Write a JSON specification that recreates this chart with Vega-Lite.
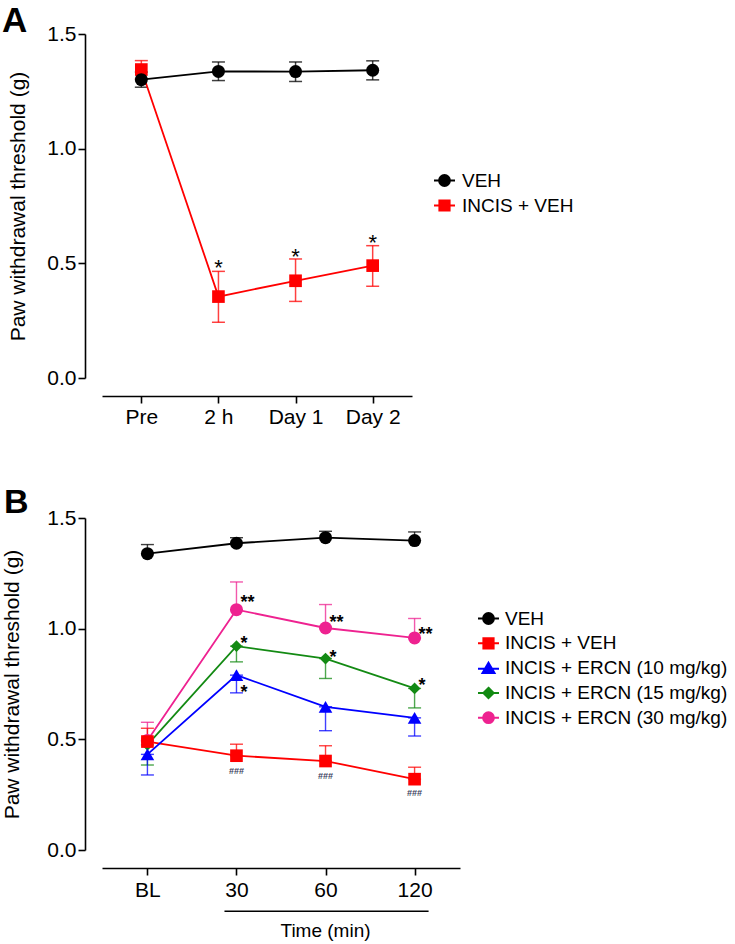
{
  "$schema": "https://vega.github.io/schema/vega-lite/v6.json",
  "padding": {"left": 1, "top": 4, "right": 0, "bottom": 0},
  "columns": 1,
  "align": "none",
  "spacing": 59,
  "resolve": {
    "scale": {"x": "independent", "y": "independent", "color": "independent", "fill": "independent", "stroke": "independent", "shape": "independent"},
    "axis": {"x": "independent", "y": "independent"},
    "legend": {"color": "independent", "fill": "independent", "stroke": "independent", "shape": "independent"}
  },
  "config": {
    "view": {"stroke": null},
    "font": "Liberation Sans",
    "axis": {"domainColor": "black", "domainWidth": 1.6, "tickColor": "black", "tickWidth": 1.6, "tickSize": 7, "labelColor": "black", "labelFontSize": 21, "grid": false, "titleColor": "black", "titleFontWeight": "normal", "titleFontSize": 21},
    "legend": {"labelLimit": 0, "symbolOpacity": 1},
    "title": {"color": "black"}
  },
  "datasets": {
    "A": [
      {"group": "INCIS + VEH", "time": "Pre", "mean": 1.345, "lo": 1.305, "hi": 1.384},
      {"group": "INCIS + VEH", "time": "2 h", "mean": 0.355, "lo": 0.243, "hi": 0.465},
      {"group": "INCIS + VEH", "time": "Day 1", "mean": 0.424, "lo": 0.334, "hi": 0.519},
      {"group": "INCIS + VEH", "time": "Day 2", "mean": 0.49, "lo": 0.4, "hi": 0.577},
      {"group": "VEH", "time": "Pre", "mean": 1.301, "lo": 1.268, "hi": 1.334},
      {"group": "VEH", "time": "2 h", "mean": 1.337, "lo": 1.297, "hi": 1.378},
      {"group": "VEH", "time": "Day 1", "mean": 1.336, "lo": 1.293, "hi": 1.378},
      {"group": "VEH", "time": "Day 2", "mean": 1.342, "lo": 1.3, "hi": 1.383}
    ],
    "A_ann": [
      {"time": "2 h", "y": 0.505, "label": "*"},
      {"time": "Day 1", "y": 0.555, "label": "*"},
      {"time": "Day 2", "y": 0.614, "label": "*"}
    ],
    "B": [
      {"group": "VEH", "time": "BL", "mean": 1.339, "lo": 1.339, "hi": 1.38},
      {"group": "VEH", "time": "30", "mean": 1.386, "lo": 1.386, "hi": 1.411},
      {"group": "VEH", "time": "60", "mean": 1.411, "lo": 1.411, "hi": 1.44},
      {"group": "VEH", "time": "120", "mean": 1.398, "lo": 1.398, "hi": 1.437},
      {"group": "INCIS + ERCN (30 mg/kg)", "time": "BL", "mean": 0.495, "lo": 0.495, "hi": 0.577},
      {"group": "INCIS + ERCN (30 mg/kg)", "time": "30", "mean": 1.086, "lo": 1.086, "hi": 1.211},
      {"group": "INCIS + ERCN (30 mg/kg)", "time": "60", "mean": 1.003, "lo": 1.003, "hi": 1.109},
      {"group": "INCIS + ERCN (30 mg/kg)", "time": "120", "mean": 0.958, "lo": 0.958, "hi": 1.046},
      {"group": "INCIS + ERCN (15 mg/kg)", "time": "BL", "mean": 0.475, "lo": 0.384, "hi": 0.475},
      {"group": "INCIS + ERCN (15 mg/kg)", "time": "30", "mean": 0.921, "lo": 0.85, "hi": 0.921},
      {"group": "INCIS + ERCN (15 mg/kg)", "time": "60", "mean": 0.865, "lo": 0.775, "hi": 0.865},
      {"group": "INCIS + ERCN (15 mg/kg)", "time": "120", "mean": 0.73, "lo": 0.642, "hi": 0.73},
      {"group": "INCIS + VEH", "time": "BL", "mean": 0.49, "lo": 0.49, "hi": 0.55},
      {"group": "INCIS + VEH", "time": "30", "mean": 0.426, "lo": 0.426, "hi": 0.478},
      {"group": "INCIS + VEH", "time": "60", "mean": 0.402, "lo": 0.402, "hi": 0.471},
      {"group": "INCIS + VEH", "time": "120", "mean": 0.32, "lo": 0.32, "hi": 0.374},
      {"group": "INCIS + ERCN (10 mg/kg)", "time": "BL", "mean": 0.432, "lo": 0.339, "hi": 0.432},
      {"group": "INCIS + ERCN (10 mg/kg)", "time": "30", "mean": 0.79, "lo": 0.71, "hi": 0.79},
      {"group": "INCIS + ERCN (10 mg/kg)", "time": "60", "mean": 0.647, "lo": 0.539, "hi": 0.647},
      {"group": "INCIS + ERCN (10 mg/kg)", "time": "120", "mean": 0.597, "lo": 0.515, "hi": 0.597}
    ],
    "B_ann": [
      {"time": "30", "y": 1.139, "label": "**", "kind": "star"},
      {"time": "60", "y": 1.046, "label": "**", "kind": "star"},
      {"time": "120", "y": 0.996, "label": "**", "kind": "star"},
      {"time": "30", "y": 0.955, "label": "*", "kind": "star"},
      {"time": "60", "y": 0.892, "label": "*", "kind": "star"},
      {"time": "120", "y": 0.764, "label": "*", "kind": "star"},
      {"time": "30", "y": 0.734, "label": "*", "kind": "star"},
      {"time": "30", "y": 0.357, "label": "###", "kind": "hash"},
      {"time": "60", "y": 0.334, "label": "###", "kind": "hash"},
      {"time": "120", "y": 0.259, "label": "###", "kind": "hash"}
    ]
  },
  "concat": [
    {
      "width": 310,
      "height": 344,
      "title": {"text": "A", "fontSize": 35, "fontWeight": "bold", "anchor": "start", "frame": "group", "dx": -100, "dy": 18, "offset": 2},
      "data": {"name": "A"},
      "encoding": {
        "x": {"field": "time", "type": "ordinal", "sort": ["Pre", "2 h", "Day 1", "Day 2"], "scale": {"type": "point", "padding": 0.51}, "axis": {"title": null, "offset": 18, "labelAngle": 0, "labelPadding": 3}},
        "y": {"field": "mean", "type": "quantitative", "scale": {"domain": [0, 1.5], "nice": false}, "axis": {"title": "Paw withdrawal threshold (g)", "values": [0, 0.5, 1, 1.5], "format": ".1f", "offset": 17, "labelPadding": 2, "titlePadding": 18}}
      },
      "layer": [
        {
          "mark": {"type": "point", "size": 4, "strokeWidth": 1, "opacity": 1},
          "encoding": {
            "fill": {"field": "group", "type": "nominal", "scale": {"domain": ["VEH", "INCIS + VEH"], "range": ["#000000", "#ff0000"]}, "legend": {"title": null, "orient": "none", "legendX": 333, "legendY": 137, "padding": 0, "symbolSize": 144, "symbolStrokeWidth": 2, "labelFontSize": 19, "labelOffset": 8, "rowPadding": 5, "labelColor": "black", "labelLimit": 0, "symbolOpacity": 1}},
            "stroke": {"field": "group", "type": "nominal", "scale": {"domain": ["VEH", "INCIS + VEH"], "range": ["#000000", "#ff0000"]}, "legend": {"title": null, "orient": "none", "legendX": 333, "legendY": 137, "padding": 0, "symbolSize": 144, "symbolStrokeWidth": 2, "labelFontSize": 19, "labelOffset": 8, "rowPadding": 5, "labelColor": "black", "labelLimit": 0, "symbolOpacity": 1}},
            "shape": {"field": "group", "type": "nominal", "scale": {"domain": ["VEH", "INCIS + VEH"], "range": ["M-1.75,0H1.75M0.9,0A0.9,0.9,0,1,1,-0.9,0A0.9,0.9,0,1,1,0.9,0Z", "M-1.75,0H1.75M-0.85,-0.85H0.85V0.85H-0.85Z"]}, "legend": {"title": null, "orient": "none", "legendX": 333, "legendY": 137, "padding": 0, "symbolSize": 144, "symbolStrokeWidth": 2, "labelFontSize": 19, "labelOffset": 8, "rowPadding": 5, "labelColor": "black", "labelLimit": 0, "symbolOpacity": 1}}
          }
        },
        {
          "mark": {"type": "errorbar", "ticks": {"size": 13, "opacity": 0.75}, "rule": {"opacity": 0.75}, "thickness": 1.5},
          "encoding": {
            "y": {"field": "lo", "type": "quantitative", "scale": {"domain": [0, 1.5], "nice": false}, "axis": {"title": "Paw withdrawal threshold (g)", "values": [0, 0.5, 1, 1.5], "format": ".1f", "offset": 17, "labelPadding": 2, "titlePadding": 18}},
            "y2": {"field": "hi"},
            "color": {"field": "group", "type": "nominal", "scale": {"domain": ["VEH", "INCIS + VEH"], "range": ["#000000", "#ff0000"]}, "legend": null}
          }
        },
        {
          "mark": {"type": "line", "strokeWidth": 1.8},
          "encoding": {
            "color": {"field": "group", "type": "nominal", "scale": {"domain": ["VEH", "INCIS + VEH"], "range": ["#000000", "#ff0000"]}, "legend": null}
          }
        },
        {
          "transform": [{"filter": "datum.group == 'INCIS + VEH'"}],
          "mark": {"type": "point", "filled": true, "opacity": 1, "shape": "square", "size": 160},
          "encoding": {
            "color": {"field": "group", "type": "nominal", "scale": {"domain": ["VEH", "INCIS + VEH"], "range": ["#000000", "#ff0000"]}, "legend": null}
          }
        },
        {
          "transform": [{"filter": "datum.group == 'VEH'"}],
          "mark": {"type": "point", "filled": true, "opacity": 1, "shape": "circle", "size": 169},
          "encoding": {
            "color": {"field": "group", "type": "nominal", "scale": {"domain": ["VEH", "INCIS + VEH"], "range": ["#000000", "#ff0000"]}, "legend": null}
          }
        },
        {
          "data": {"name": "A_ann"},
          "mark": {"type": "text", "fontSize": 22, "baseline": "middle", "align": "center", "dy": 6, "color": "black"},
          "encoding": {
            "y": {"field": "y", "type": "quantitative", "scale": {"domain": [0, 1.5], "nice": false}, "axis": {"title": "Paw withdrawal threshold (g)", "values": [0, 0.5, 1, 1.5], "format": ".1f", "offset": 17, "labelPadding": 2, "titlePadding": 18}},
            "text": {"field": "label"}
          }
        }
      ]
    },
    {
      "width": 358,
      "height": 332,
      "title": {"text": "B", "fontSize": 34, "fontWeight": "bold", "anchor": "start", "frame": "group", "dx": -98, "dy": 15, "offset": 2},
      "data": {"name": "B"},
      "encoding": {
        "x": {"field": "time", "type": "ordinal", "sort": ["BL", "30", "60", "120"], "scale": {"type": "point", "padding": 0.51}, "axis": {"title": null, "offset": 18, "labelAngle": 0, "labelPadding": 4}}
      },
      "layer": [
        {
          "mark": {"type": "point", "size": 4, "strokeWidth": 1, "opacity": 1},
          "encoding": {
            "y": {"field": "mean", "type": "quantitative", "scale": {"domain": [0, 1.5], "nice": false}, "axis": {"title": "Paw withdrawal threshold (g)", "values": [0, 0.5, 1, 1.5], "format": ".1f", "offset": 17, "labelPadding": 2, "titlePadding": 24}},
            "fill": {"field": "group", "type": "nominal", "scale": {"domain": ["VEH", "INCIS + VEH", "INCIS + ERCN (10 mg/kg)", "INCIS + ERCN (15 mg/kg)", "INCIS + ERCN (30 mg/kg)"], "range": ["#000000", "#ff0000", "#0000ff", "#138a13", "#ee2290"]}, "legend": {"title": null, "orient": "none", "legendX": 377, "legendY": 91, "padding": 0, "symbolSize": 144, "symbolStrokeWidth": 2, "labelFontSize": 19, "labelOffset": 7, "rowPadding": 4.8, "labelColor": "black", "labelLimit": 0, "symbolOpacity": 1}},
            "stroke": {"field": "group", "type": "nominal", "scale": {"domain": ["VEH", "INCIS + VEH", "INCIS + ERCN (10 mg/kg)", "INCIS + ERCN (15 mg/kg)", "INCIS + ERCN (30 mg/kg)"], "range": ["#000000", "#ff0000", "#0000ff", "#138a13", "#ee2290"]}, "legend": {"title": null, "orient": "none", "legendX": 377, "legendY": 91, "padding": 0, "symbolSize": 144, "symbolStrokeWidth": 2, "labelFontSize": 19, "labelOffset": 7, "rowPadding": 4.8, "labelColor": "black", "labelLimit": 0, "symbolOpacity": 1}},
            "shape": {"field": "group", "type": "nominal", "scale": {"domain": ["VEH", "INCIS + VEH", "INCIS + ERCN (10 mg/kg)", "INCIS + ERCN (15 mg/kg)", "INCIS + ERCN (30 mg/kg)"], "range": ["M-1.75,0H1.75M0.9,0A0.9,0.9,0,1,1,-0.9,0A0.9,0.9,0,1,1,0.9,0Z", "M-1.75,0H1.75M-0.85,-0.85H0.85V0.85H-0.85Z", "M-1.75,0.1H1.75M0,-0.9L1,0.8H-1Z", "M-1.75,0H1.75M0,-0.85L0.85,0L0,0.85L-0.85,0Z", "M-1.75,0H1.75M0.9,0A0.9,0.9,0,1,1,-0.9,0A0.9,0.9,0,1,1,0.9,0Z"]}, "legend": {"title": null, "orient": "none", "legendX": 377, "legendY": 91, "padding": 0, "symbolSize": 144, "symbolStrokeWidth": 2, "labelFontSize": 19, "labelOffset": 7, "rowPadding": 4.8, "labelColor": "black", "labelLimit": 0, "symbolOpacity": 1}}
          }
        },
        {
          "mark": {"type": "errorbar", "ticks": {"size": 13, "opacity": 0.75}, "rule": {"opacity": 0.75}, "thickness": 1.4},
          "encoding": {
            "y": {"field": "lo", "type": "quantitative", "scale": {"domain": [0, 1.5], "nice": false}, "axis": {"title": "Paw withdrawal threshold (g)", "values": [0, 0.5, 1, 1.5], "format": ".1f", "offset": 17, "labelPadding": 2, "titlePadding": 24}},
            "y2": {"field": "hi"},
            "color": {"field": "group", "type": "nominal", "scale": {"domain": ["VEH", "INCIS + VEH", "INCIS + ERCN (10 mg/kg)", "INCIS + ERCN (15 mg/kg)", "INCIS + ERCN (30 mg/kg)"], "range": ["#000000", "#ff0000", "#0000ff", "#138a13", "#ee2290"]}, "legend": null}
          }
        },
        {
          "mark": {"type": "line", "strokeWidth": 1.8},
          "encoding": {
            "y": {"field": "mean", "type": "quantitative", "scale": {"domain": [0, 1.5], "nice": false}, "axis": {"title": "Paw withdrawal threshold (g)", "values": [0, 0.5, 1, 1.5], "format": ".1f", "offset": 17, "labelPadding": 2, "titlePadding": 24}},
            "color": {"field": "group", "type": "nominal", "scale": {"domain": ["VEH", "INCIS + VEH", "INCIS + ERCN (10 mg/kg)", "INCIS + ERCN (15 mg/kg)", "INCIS + ERCN (30 mg/kg)"], "range": ["#000000", "#ff0000", "#0000ff", "#138a13", "#ee2290"]}, "legend": null}
          }
        },
        {
          "transform": [{"filter": "datum.group == 'VEH' || datum.group == 'INCIS + ERCN (30 mg/kg)'"}],
          "mark": {"type": "point", "filled": true, "opacity": 1, "shape": "circle", "size": 169},
          "encoding": {
            "y": {"field": "mean", "type": "quantitative", "scale": {"domain": [0, 1.5], "nice": false}, "axis": {"title": "Paw withdrawal threshold (g)", "values": [0, 0.5, 1, 1.5], "format": ".1f", "offset": 17, "labelPadding": 2, "titlePadding": 24}},
            "color": {"field": "group", "type": "nominal", "scale": {"domain": ["VEH", "INCIS + VEH", "INCIS + ERCN (10 mg/kg)", "INCIS + ERCN (15 mg/kg)", "INCIS + ERCN (30 mg/kg)"], "range": ["#000000", "#ff0000", "#0000ff", "#138a13", "#ee2290"]}, "legend": null}
          }
        },
        {
          "transform": [{"filter": "datum.group == 'INCIS + ERCN (15 mg/kg)'"}],
          "mark": {"type": "point", "filled": true, "opacity": 1, "shape": "diamond", "size": 140},
          "encoding": {
            "y": {"field": "mean", "type": "quantitative", "scale": {"domain": [0, 1.5], "nice": false}, "axis": {"title": "Paw withdrawal threshold (g)", "values": [0, 0.5, 1, 1.5], "format": ".1f", "offset": 17, "labelPadding": 2, "titlePadding": 24}},
            "color": {"field": "group", "type": "nominal", "scale": {"domain": ["VEH", "INCIS + VEH", "INCIS + ERCN (10 mg/kg)", "INCIS + ERCN (15 mg/kg)", "INCIS + ERCN (30 mg/kg)"], "range": ["#000000", "#ff0000", "#0000ff", "#138a13", "#ee2290"]}, "legend": null}
          }
        },
        {
          "transform": [{"filter": "datum.group == 'INCIS + VEH'"}],
          "mark": {"type": "point", "filled": true, "opacity": 1, "shape": "square", "size": 160},
          "encoding": {
            "y": {"field": "mean", "type": "quantitative", "scale": {"domain": [0, 1.5], "nice": false}, "axis": {"title": "Paw withdrawal threshold (g)", "values": [0, 0.5, 1, 1.5], "format": ".1f", "offset": 17, "labelPadding": 2, "titlePadding": 24}},
            "color": {"field": "group", "type": "nominal", "scale": {"domain": ["VEH", "INCIS + VEH", "INCIS + ERCN (10 mg/kg)", "INCIS + ERCN (15 mg/kg)", "INCIS + ERCN (30 mg/kg)"], "range": ["#000000", "#ff0000", "#0000ff", "#138a13", "#ee2290"]}, "legend": null}
          }
        },
        {
          "transform": [{"filter": "datum.group == 'INCIS + ERCN (10 mg/kg)'"}],
          "mark": {"type": "point", "filled": true, "opacity": 1, "shape": "triangle-up", "size": 185},
          "encoding": {
            "y": {"field": "mean", "type": "quantitative", "scale": {"domain": [0, 1.5], "nice": false}, "axis": {"title": "Paw withdrawal threshold (g)", "values": [0, 0.5, 1, 1.5], "format": ".1f", "offset": 17, "labelPadding": 2, "titlePadding": 24}},
            "color": {"field": "group", "type": "nominal", "scale": {"domain": ["VEH", "INCIS + VEH", "INCIS + ERCN (10 mg/kg)", "INCIS + ERCN (15 mg/kg)", "INCIS + ERCN (30 mg/kg)"], "range": ["#000000", "#ff0000", "#0000ff", "#138a13", "#ee2290"]}, "legend": null}
          }
        },
        {
          "data": {"name": "B_ann"},
          "transform": [{"filter": "datum.kind == 'star'"}],
          "mark": {"type": "text", "fontSize": 18, "fontWeight": "bold", "baseline": "middle", "align": "left", "dx": 4, "dy": 5, "color": "black"},
          "encoding": {
            "y": {"field": "y", "type": "quantitative", "scale": {"domain": [0, 1.5], "nice": false}, "axis": {"title": "Paw withdrawal threshold (g)", "values": [0, 0.5, 1, 1.5], "format": ".1f", "offset": 17, "labelPadding": 2, "titlePadding": 24}},
            "text": {"field": "label"}
          }
        },
        {
          "data": {"name": "B_ann"},
          "transform": [{"filter": "datum.kind == 'hash'"}],
          "mark": {"type": "text", "fontSize": 9, "fontWeight": "bold", "baseline": "middle", "align": "center", "color": "#3a3f5c"},
          "encoding": {
            "y": {"field": "y", "type": "quantitative", "scale": {"domain": [0, 1.5], "nice": false}, "axis": {"title": "Paw withdrawal threshold (g)", "values": [0, 0.5, 1, 1.5], "format": ".1f", "offset": 17, "labelPadding": 2, "titlePadding": 24}},
            "text": {"field": "label"}
          }
        },
        {
          "data": {"values": [{}]},
          "mark": {"type": "rule", "strokeWidth": 1.6, "color": "black", "xOffset": -12, "x2Offset": 14},
          "encoding": {
            "x": {"datum": "30", "type": "ordinal", "axis": {"title": null, "offset": 18, "labelAngle": 0, "labelPadding": 4}},
            "x2": {"datum": "120"},
            "y": {"datum": -0.277, "type": "quantitative", "scale": {"domain": [0, 1.5], "nice": false}, "axis": {"title": "Paw withdrawal threshold (g)", "values": [0, 0.5, 1, 1.5], "format": ".1f", "offset": 17, "labelPadding": 2, "titlePadding": 24}}
          }
        },
        {
          "data": {"values": [{}]},
          "mark": {"type": "text", "text": "Time (min)", "fontSize": 19, "baseline": "middle", "align": "center", "color": "black"},
          "encoding": {
            "x": {"datum": "60", "type": "ordinal", "axis": {"title": null, "offset": 18, "labelAngle": 0, "labelPadding": 4}},
            "y": {"datum": -0.368, "type": "quantitative", "scale": {"domain": [0, 1.5], "nice": false}, "axis": {"title": "Paw withdrawal threshold (g)", "values": [0, 0.5, 1, 1.5], "format": ".1f", "offset": 17, "labelPadding": 2, "titlePadding": 24}}
          }
        }
      ]
    }
  ]
}
